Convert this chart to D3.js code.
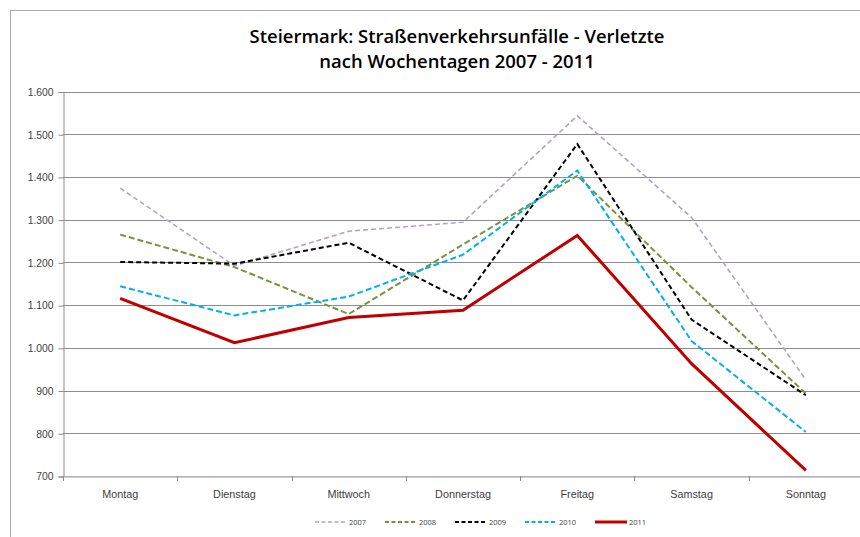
<!DOCTYPE html>
<html>
<head>
<meta charset="utf-8">
<script src="https://cdn.jsdelivr.net/npm/d3@7"></script>
<style>
  body { margin: 0; background: #fff; }
  svg { display: block; font-family: "Open Sans", "Noto Sans", sans-serif; }
  .tick-label { font-size: 10.3px; fill: #404040; }
  .title { font-size: 19px; font-weight: 600; fill: #000; }
</style>
</head>
<body>
<div class="chart"></div>
<script>
// data
const days = ["Montag", "Dienstag", "Mittwoch", "Donnerstag", "Freitag", "Samstag", "Sonntag"]
const years = ["2007", "2008", "2009", "2010", "2011"]
const v2007 = [1374, 1192, 1273, 1294, 1543, 1305, 925]
const v2008 = [1265, 1189, 1079, 1242, 1403, 1142, 893]
const v2009 = [1201, 1197, 1246, 1111, 1477, 1066, 889]
const v2010 = [1144, 1076, 1120, 1218, 1415, 1016, 803]
const v2011 = [1116, 1012, 1071, 1088, 1263, 963, 713]
const yTicks = [700, 800, 900, 1000, 1100, 1200, 1300, 1400, 1500, 1600]

const colors = ["#b3a2c7", "#77933c", "#000000", "#00b0f0", "#c00000"]
const widths = [1.6, 2, 2, 2, 3]
const dashes = ["5,3", "6,3", "5,3", "6,3", null]

const width = 860, height = 537

const svg = d3.select(".chart").append("svg")
    .attr("width", width)
    .attr("height", height)

// chart frame (the picture is cropped on the right and bottom)
svg.append("rect")
    .attr("x", 10.5).attr("y", 10.5)
    .attr("width", 900).attr("height", 600)
    .attr("fill", "none")
    .attr("stroke", "#a6a6a6")

const title = svg.append("text")
    .attr("class", "title")
    .attr("text-anchor", "middle")
    .attr("x", 457)

title.append("tspan").attr("x", 457).attr("y", 43).text("Steiermark: Straßenverkehrsunfälle - Verletzte")
title.append("tspan").attr("x", 457).attr("y", 68).text("nach Wochentagen 2007 - 2011")

// fit the title width to the original
const tw = title.select("tspan").node().getComputedTextLength()
title.style("font-size", (19 * 415 / tw) + "px")

const x = d3.scaleBand().domain(days).range([63, 863]).padding(0)
const y = d3.scaleLinear().domain([700, 1600]).range([476, 91.5])

// gridlines
svg.append("g")
    .selectAll("line")
    .data(yTicks)
    .enter().append("line")
    .attr("x1", 63).attr("x2", 863)
    .attr("y1", d => Math.round(y(d)) + 0.5)
    .attr("y2", d => Math.round(y(d)) + 0.5)
    .attr("stroke", "#8c8c8c")
    .attr("stroke-width", 1)

// y axis
const yAxis = svg.append("g")
    .attr("transform", "translate(63.5,0.5)")
    .call(d3.axisLeft(y).tickValues(yTicks).tickSize(5).tickPadding(5)
        .tickFormat(d => d3.format(",")(d).replace(/,/g, ".")))
yAxis.select(".domain").attr("stroke", "#8c8c8c")
yAxis.selectAll(".tick line").attr("stroke", "#8c8c8c")
yAxis.selectAll(".tick text").attr("class", "tick-label").attr("font-family", null).attr("font-size", null)

// x axis
const xAxis = svg.append("g")
    .attr("transform", "translate(0," + (Math.round(y(700)) + 0.5) + ")")
    .call(d3.axisBottom(x).tickSize(0).tickPadding(14))
xAxis.select(".domain").attr("stroke", "#bfbfbf").attr("stroke-width", 1.5)
xAxis.selectAll(".tick text").attr("class", "tick-label").attr("font-family", null).attr("font-size", null)
    .style("font-size", "10.8px")

// boundary ticks between categories
svg.append("g")
    .selectAll("line")
    .data(days)
    .enter().append("line")
    .attr("x1", d => Math.round(x(d)) + 0.5)
    .attr("x2", d => Math.round(x(d)) + 0.5)
    .attr("y1", Math.round(y(700)))
    .attr("y2", Math.round(y(700)) + 5)
    .attr("stroke", "#8c8c8c")

const series = [v2007, v2008, v2009, v2010, v2011]

const line = d3.line()
    .x((d, i) => x(days[i]) + x.bandwidth() / 2)
    .y(d => y(d))

svg.append("g")
    .selectAll("path")
    .data(series)
    .enter().append("path")
    .attr("d", line)
    .attr("fill", "none")
    .attr("stroke", (d, i) => colors[i])
    .attr("stroke-width", (d, i) => widths[i])
    .attr("stroke-dasharray", (d, i) => dashes[i])

// legend
const legend = svg.append("g")
    .selectAll("g")
    .data(years)
    .enter().append("g")
    .attr("transform", (d, i) => "translate(" + (315 + i * 70) + ",522)")

legend.append("line")
    .attr("x1", 0).attr("x2", 32)
    .attr("stroke", (d, i) => colors[i])
    .attr("stroke-width", (d, i) => widths[i])
    .attr("stroke-dasharray", (d, i) => dashes[i] ? "4,2.5" : null)

legend.append("text")
    .attr("x", 34)
    .attr("dy", "0.35em")
    .style("font-size", "7.5px")
    .attr("fill", "#404040")
    .text(d => d)
</script>
</body>
</html>
